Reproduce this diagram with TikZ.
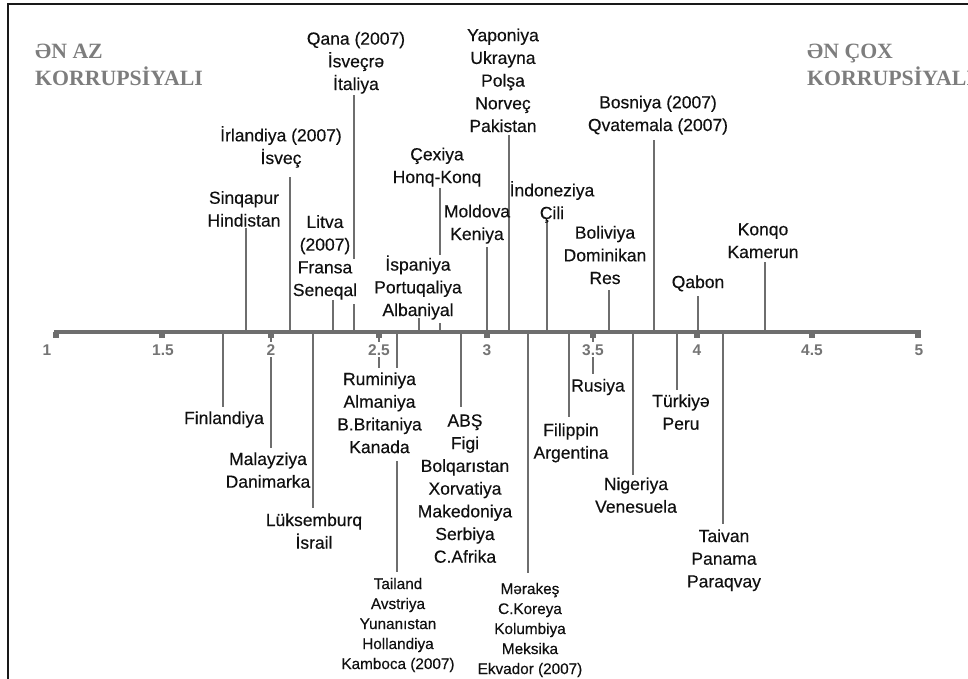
\documentclass[tikz,border=0pt]{standalone}
\usepackage{fontspec}
\setmainfont{Liberation Sans}[FakeBold=0.35]
\newfontfamily\headfont{Liberation Serif}
\newfontfamily\tickfont{Liberation Sans}
\usetikzlibrary{backgrounds}

\definecolor{stemgray}{HTML}{6E6E6E}
\definecolor{headgray}{HTML}{7D7D7D}
\definecolor{tickgray}{HTML}{747474}
\definecolor{labelblack}{HTML}{101010}

% stacked labels: [b] puts the base on the last line, [t] on the first line
\newcommand\upl[1]{\begin{tabular}[b]{@{}c@{}}#1\end{tabular}}
\newcommand\dnl[1]{\begin{tabular}[t]{@{}c@{}}#1\end{tabular}}

\tikzset{
  lbl/.style={inner sep=0pt, anchor=base, text=labelblack,
              font=\fontsize{17.5}{22.7}\selectfont},
  smalllbl/.style={font=\fontsize{15.3}{20}\selectfont},
  whitebg/.style={fill=white, inner xsep=2pt},
  stem/.style={draw=stemgray, line width=2.6pt},
  axisline/.style={draw=stemgray, line width=3.4pt},
  ticklbl/.style={anchor=base, inner sep=2pt, fill=white, text=tickgray,
                  font=\tickfont\bfseries\fontsize{15.5}{18}\selectfont},
  headlbl/.style={anchor=base west, inner sep=0pt, text=headgray,
                  font=\headfont\bfseries\fontsize{21.8}{27}\selectfont},
}

% label above the axis: name, text x, last baseline, stem x, gap, style, text
\newcommand\upitem[7]{%
  \node[lbl,#6] (#1) at (#2,#3) {\upl{#7}};
  \coordinate (#1-ax) at (#4,332);
  \begin{pgfonlayer}{background}
    \draw[stem] ([yshift=-#5pt]#1.base -| #1-ax) -- (#1-ax);
  \end{pgfonlayer}}

% label below the axis: name, text x, first baseline, stem x, gap, style, text
\newcommand\dnitem[7]{%
  \node[lbl,#6] (#1) at (#2,#3) {\dnl{#7}};
  \coordinate (#1-ax) at (#4,332);
  \begin{pgfonlayer}{background}
    \draw[stem] (#1-ax) -- ([yshift=#5pt]#1.base -| #1-ax);
  \end{pgfonlayer}}

\begin{document}
\begin{tikzpicture}[x=1pt,y=-1pt]
\useasboundingbox (0,0) rectangle (968,678);

% frame
\draw[line width=1.8pt, color=black!90] (969,4) -- (8,4) -- (8,679);

% headings
\node[headlbl] (least) at (35,85)
  {\begin{tabular}[b]{@{}l@{}}ƏN AZ\\KORRUPSİYALI\end{tabular}};
\node[headlbl] (most) at (807,85)
  {\begin{tabular}[b]{@{}l@{}}ƏN ÇOX\\KORRUPSİYALI\end{tabular}};

% scale
\coordinate (axL) at (54,332);
\coordinate (axR) at (921,332);
\draw[axisline] (axL) -- (axR);
\foreach \tx in {56,162,271,379,487,593,697,812,918}
  \fill[stemgray] (\tx-3,332) rectangle (\tx+3,337.5);
\foreach \tx/\tl in {47/1,163/1.5,271/2,379/2.5,487/3,593/3.5,697/4,812/4.5,919/5}
  \node[ticklbl] (tick-\tl) at (\tx,355) {\tl};

% above the axis
\upitem{sing}{244}{226.5}{246}{1}{}{Sinqapur\\Hindistan}
\upitem{irl}{281}{164}{290}{13}{}{İrlandiya (2007)\\İsveç}
\upitem{litva}{325}{296}{333}{4}{}{Litva\\(2007)\\Fransa\\Seneqal}
\upitem{cex}{437}{183}{440}{5}{}{Çexiya\\Honq-Konq}
\upitem{mold}{477}{240}{487}{7}{}{Moldova\\Keniya}
\upitem{yap}{503}{132}{509}{3}{}{Yaponiya\\Ukrayna\\Polşa\\Norveç\\Pakistan}
\upitem{indo}{552}{219}{547}{3}{}{İndoneziya\\Çili}
\upitem{boliv}{605}{284}{609}{6}{}{Boliviya\\Dominikan\\Res}
\upitem{bosn}{658}{131}{654}{9}{}{Bosniya (2007)\\Qvatemala (2007)}
\upitem{qab}{698}{288}{698}{8}{}{Qabon}
\upitem{konq}{763}{258}{765}{4}{}{Konqo\\Kamerun}

% Qana line passes behind the Litva label
\node[lbl] (qana) at (356,90) {\upl{Qana (2007)\\İsveçrə\\İtaliya}};
\coordinate (qana-ax) at (354,332);
\coordinate (qana-cutA) at (354,259);
\coordinate (qana-cutB) at (354,304);
\begin{pgfonlayer}{background}
  \draw[stem] ([yshift=-5pt]qana.base -| qana-ax) -- (qana-cutA);
  \draw[stem] (qana-cutB) -- (qana-ax);
\end{pgfonlayer}

% label in front of the Çexiya line
\node[lbl,whitebg,inner ysep=0pt] (isp) at (418,316)
  {\upl{İspaniya\\Portuqaliya\\Albaniyal}};
\coordinate (isp-ax) at (419,332);
\draw[stem] ([yshift=-2pt]isp.base -| isp-ax) -- (isp-ax);

% below the axis
\dnitem{fin}{224}{424}{223}{17}{}{Finlandiya}
\dnitem{malay}{268}{465}{271}{17}{}{Malayziya\\Danimarka}
\dnitem{luks}{314}{526}{313}{18}{}{Lüksemburq\\İsrail}
\dnitem{rum}{379.5}{385}{379}{15}{whitebg,inner ysep=1pt}{Ruminiya\\Almaniya\\B.Britaniya\\Kanada}
\dnitem{tai}{398}{589}{397}{17}{smalllbl}{Tailand\\Avstriya\\Yunanıstan\\Hollandiya\\Kamboca (2007)}
\dnitem{abs}{465}{426.5}{461}{19.5}{}{ABŞ\\Figi\\Bolqarıstan\\Xorvatiya\\Makedoniya\\Serbiya\\C.Afrika}
\dnitem{mer}{530}{594}{528}{21.5}{smalllbl}{Mərakeş\\C.Koreya\\Kolumbiya\\Meksika\\Ekvador (2007)}
\dnitem{fil}{571}{436}{569}{19.5}{}{Filippin\\Argentina}
\dnitem{rus}{598}{391.5}{593}{17.5}{}{Rusiya}
\dnitem{nig}{636}{490}{633}{15}{}{Nigeriya\\Venesuela}
\dnitem{tur}{681}{407}{677}{17}{}{Türkiyə\\Peru}
\dnitem{taiv}{724}{542}{723}{18}{}{Taivan\\Panama\\Paraqvay}

\end{tikzpicture}
\end{document}
